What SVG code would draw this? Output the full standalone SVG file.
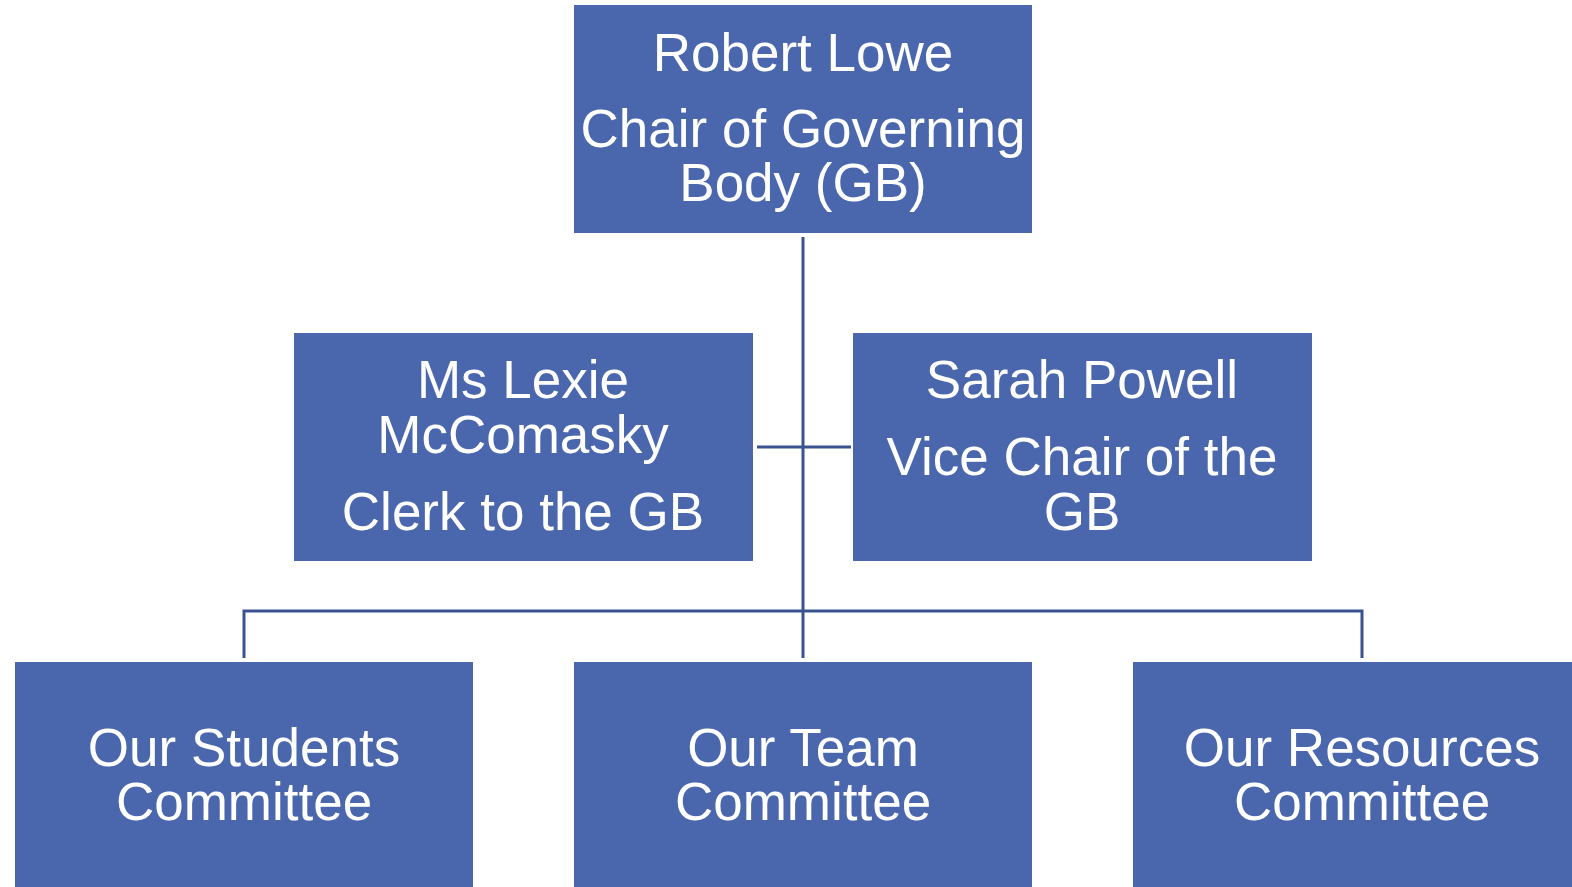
<svg xmlns="http://www.w3.org/2000/svg" width="1572" height="887" viewBox="0 0 1572 887">
<style>
.box{fill:#4A67AE;}
.t{fill:#FFFFFF;font-family:"Liberation Sans",Arial,sans-serif;font-size:53px;text-anchor:middle;}
.c{stroke:#3A5290;stroke-width:3;fill:none;}
</style>
<rect width="1572" height="887" fill="#FFFFFF"/>
<g id="connectors">
<line class="c" x1="803" y1="237" x2="803" y2="658"/>
<line class="c" x1="757" y1="447" x2="851" y2="447"/>
<polyline class="c" points="244,658 244,611 1362,611 1362,658"/>
</g>
<g id="chair">
<rect class="box" x="574" y="5" width="458" height="228"/>
<text class="t" x="803" y="71">Robert Lowe</text>
<text class="t" x="803" y="147">Chair of Governing</text>
<text class="t" x="803" y="201">Body (GB)</text>
</g>
<g id="clerk">
<rect class="box" x="294" y="333" width="459" height="228"/>
<text class="t" x="523" y="398">Ms Lexie</text>
<text class="t" x="523" y="453">McComasky</text>
<text class="t" x="523" y="530">Clerk to the GB</text>
</g>
<g id="vicechair">
<rect class="box" x="853" y="333" width="459" height="228"/>
<text class="t" x="1082" y="398">Sarah Powell</text>
<text class="t" x="1082" y="475">Vice Chair of the</text>
<text class="t" x="1082" y="530">GB</text>
</g>
<g id="students">
<rect class="box" x="15" y="662" width="458" height="230"/>
<text class="t" x="244" y="766">Our Students</text>
<text class="t" x="244" y="820">Committee</text>
</g>
<g id="team">
<rect class="box" x="574" y="662" width="458" height="230"/>
<text class="t" x="803" y="766">Our Team</text>
<text class="t" x="803" y="820">Committee</text>
</g>
<g id="resources">
<rect class="box" x="1133" y="662" width="458" height="230"/>
<text class="t" x="1362" y="766">Our Resources</text>
<text class="t" x="1362" y="820">Committee</text>
</g>
</svg>
